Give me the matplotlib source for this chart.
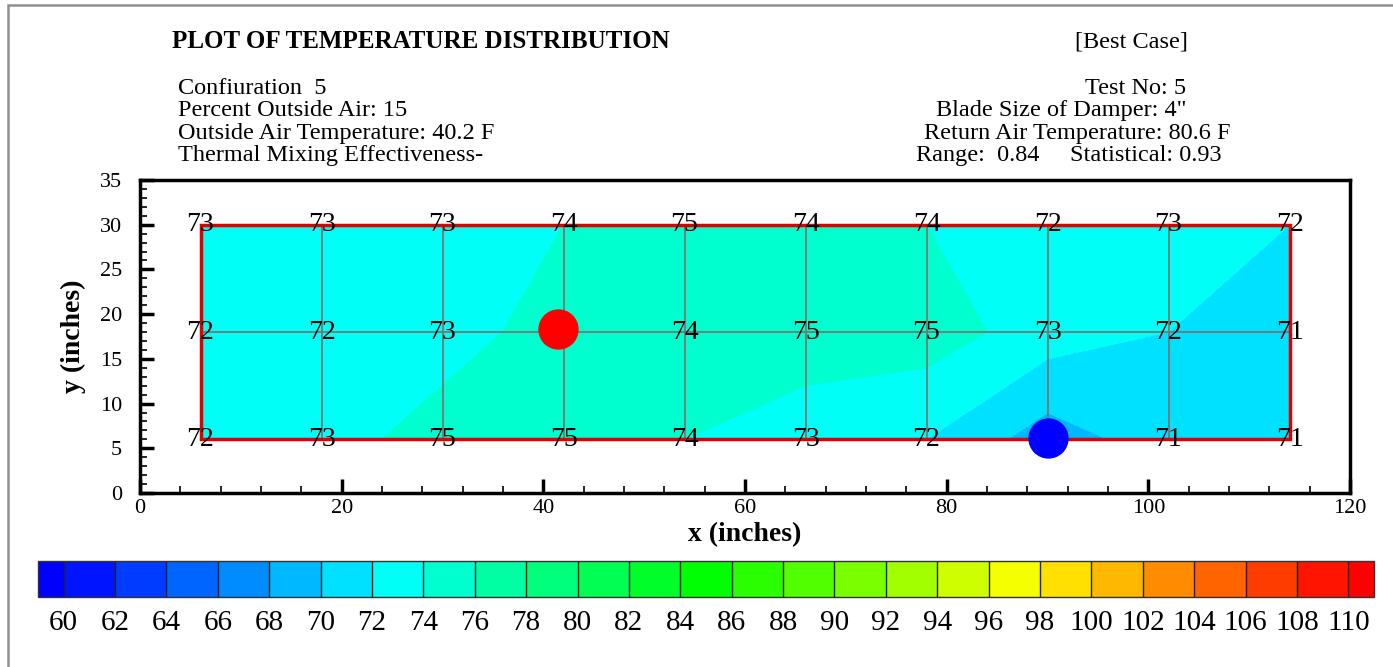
import numpy as np
import matplotlib.pyplot as plt
from matplotlib.colors import LinearSegmentedColormap
from matplotlib.patches import Rectangle
from matplotlib.ticker import MultipleLocator

plt.rcParams['font.family'] = ['Liberation Serif', 'DejaVu Serif']

# sensor grid (inches)
x_nodes = [6, 18, 30, 42, 54, 66, 78, 90, 102, 114]
y_nodes = [6, 18, 30]

# measured temperatures (F), one list per sensor row
temp_row_6 = [72, 73, 75, 75, 74, 73, 72, 69, 71, 71]
temp_row_18 = [72, 72, 73, 75, 74, 75, 75, 73, 72, 71]
temp_row_30 = [73, 73, 73, 74, 75, 74, 74, 72, 73, 72]

# max / min markers
max_point = (41.5, 18.3)
min_point = (90, 6.2)

levels = list(range(60, 111, 2))

left_info = ["Confiuration  5",
             "Percent Outside Air: 15",
             "Outside Air Temperature: 40.2 F",
             "Thermal Mixing Effectiveness-"]
right_info = ["Test No: 5",
              "Blade Size of Damper: 4\"",
              "Return Air Temperature: 80.6 F",
              "Range:  0.84     Statistical: 0.93"]

W, H = 1393, 667


def fx(px):
    return px / W


def fy(py):
    return 1 - py / H


fig = plt.figure(figsize=(W / 100, H / 100), dpi=100)

# outer frame (only top/left are visible in the original)
fig.patches.append(Rectangle((fx(8), fy(700)), fx(1450), 695 / H, transform=fig.transFigure,
                             fill=False, ec='#909090', lw=1.8))

# header texts
fig.text(fx(172), fy(42), "PLOT OF TEMPERATURE DISTRIBUTION", fontsize=18, fontweight='bold',
         ha='left', va='center')
fig.text(fx(1188), fy(42), "[Best Case]", fontsize=17.5, ha='right', va='center')
for i, s in enumerate(left_info):
    fig.text(fx(178), fy(88 + i * 22.5), s, fontsize=17.5, ha='left', va='center')
right_x = [1186, 1186, 1230, 1222]
for i, s in enumerate(right_info):
    fig.text(fx(right_x[i]), fy(88 + i * 22.5), s, fontsize=17.5, ha='right', va='center')

# contour plot
ax = fig.add_axes([fx(140), fy(493), 1210 / W, 313 / H])
X, Y = np.meshgrid(x_nodes, y_nodes)
Z = np.array([temp_row_6, temp_row_18, temp_row_30])

cmap = LinearSegmentedColormap.from_list('small_rainbow',
                                         ['#0000ff', '#00ffff', '#00ff00', '#ffff00', '#ff0000'])
cmap.set_under('#0000ff')
cmap.set_over('#ff0000')
# bands include their lower bound (72 belongs to 72-74)
fill_levels = np.array(levels) - 1e-6
cs = ax.contourf(X, Y, Z, levels=fill_levels, cmap=cmap, vmin=60, vmax=110, extend='both')

# mesh lines and border
ax.vlines(x_nodes[1:-1], y_nodes[0], y_nodes[-1], color='#8a6a6a', lw=1.2, zorder=3)
ax.hlines(y_nodes[1:-1], x_nodes[0], x_nodes[-1], color='#8a6a6a', lw=1.2, zorder=3)
ax.add_patch(Rectangle((x_nodes[0], y_nodes[0]), x_nodes[-1] - x_nodes[0], y_nodes[-1] - y_nodes[0],
                       fill=False, ec='#e00000', lw=2.5, zorder=4))

for j, yv in enumerate(y_nodes):
    for i, xv in enumerate(x_nodes):
        ax.text(xv, yv, str(Z[j, i]), fontsize=20, ha='center', va='center', zorder=5)

ax.plot(*max_point, 'o', color='#ff0000', ms=28, zorder=6)
ax.plot(*min_point, 'o', color='#0000ff', ms=28, zorder=6)

ax.set_xlim(0, 120)
ax.set_ylim(0, 35)
ax.xaxis.set_major_locator(MultipleLocator(20))
ax.xaxis.set_minor_locator(MultipleLocator(4))
ax.yaxis.set_major_locator(MultipleLocator(5))
ax.yaxis.set_minor_locator(MultipleLocator(1))
ax.tick_params(which='both', direction='in', top=False, right=False)
ax.tick_params(which='major', length=10, width=2.5, labelsize=16)
ax.tick_params(which='minor', length=5, width=1.2)
ax.tick_params(axis='x', which='major', pad=4)
ax.tick_params(axis='y', which='major', pad=13)
for sp in ax.spines.values():
    sp.set_linewidth(2.5)
ax.set_xlabel("x (inches)", fontsize=20, fontweight='bold', labelpad=3)
ax.set_ylabel("y (inches)", fontsize=20, fontweight='bold', labelpad=10)

# legend bar
cax = fig.add_axes([fx(38), fy(597), 1336 / W, 36 / H])
cb = fig.colorbar(cs, cax=cax, orientation='horizontal', ticks=levels, drawedges=True,
                  extendfrac=0.02, extendrect=True)
cb.outline.set_linewidth(1)
cb.outline.set_edgecolor('#333333')
cb.dividers.set_color('#222222')
cb.dividers.set_linewidth(1)
cb.ax.tick_params(length=0, labelsize=21, pad=9)

fig.savefig('out.png', dpi=100)
